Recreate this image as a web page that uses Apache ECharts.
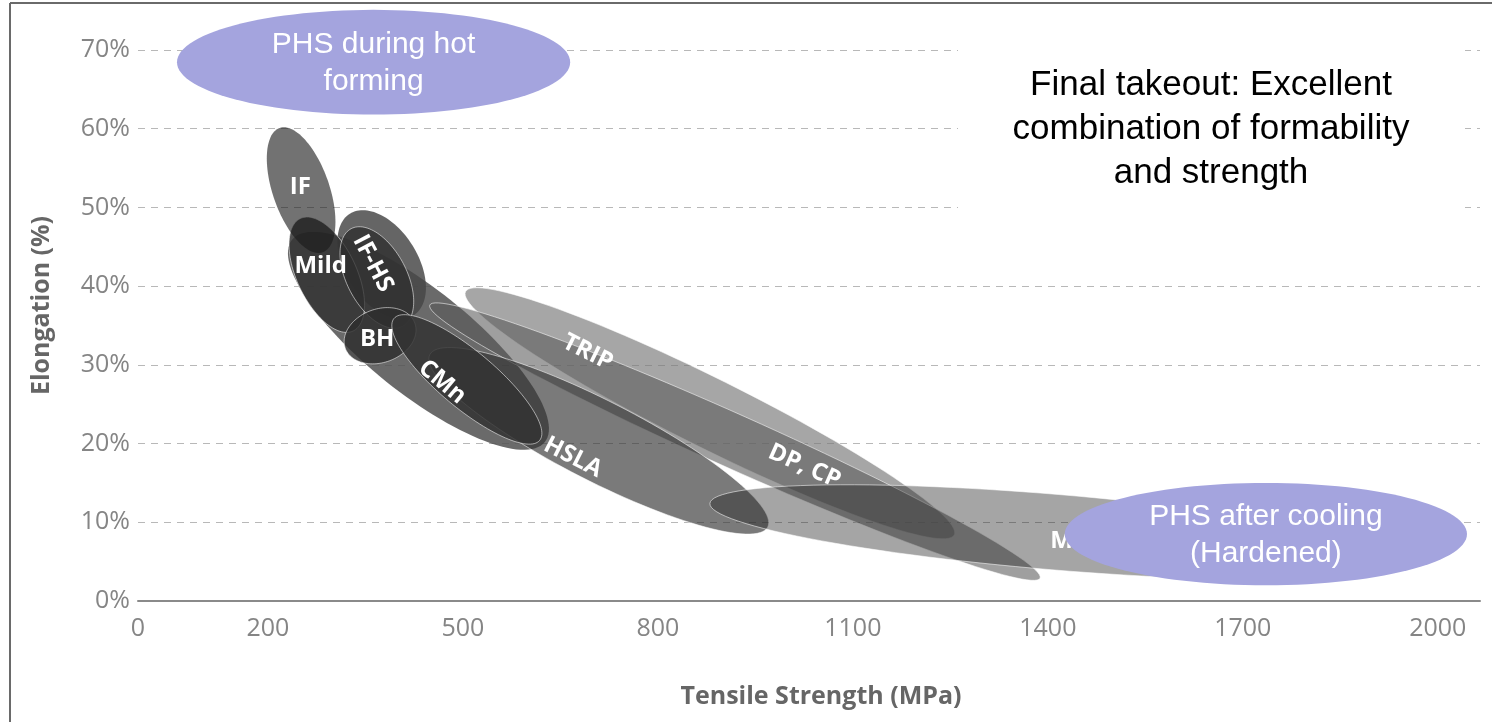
<!DOCTYPE html>
<html>
<head>
<meta charset="utf-8">
<script src="https://cdn.jsdelivr.net/npm/echarts@6/dist/echarts.min.js"></script>
<style>
  html, body { margin: 0; padding: 0; background: #ffffff; }
  #chart { width: 1492px; height: 722px; }
</style>
</head>
<body>
<div id="chart"></div>
<script>
// Steel families on the formability (elongation) vs strength map, listed in drawing order.
// Each envelope is an ellipse whose long axis runs from (tensileFrom, elongFrom)
// to (tensileTo, elongTo); halfWidth is its minor semi-axis in elongation points.
const gradeLabels = ['', 'TRIP', 'DP, CP', 'HSLA', 'MS', '', 'Mild', 'IF-HS', 'BH', 'CMn', 'IF'];
const tensileFrom = [237, 504, 449, 449, 880, 326, 250, 328, 319, 394, 218];
const elongFrom   = [45.9, 39.3, 37.6, 31.3, 12.4, 49.2, 48.6, 47.3, 32.1, 35.9, 60.1];
const tensileTo   = [626, 1256, 1388, 969, 1942, 424, 331, 407, 426, 618, 284];
const elongTo     = [20.2, 8.4, 2.9, 9.4, 5.1, 36.3, 34.3, 34.9, 35.3, 20.4, 44.3];
const halfWidth   = [6.6, 4.4, 3.4, 5.1, 4.8, 4.6, 3.8, 3.8, 3.4, 3.6, 3.6];

// Press-hardening steel call-outs (ranges in MPa and %)
const phsNotes      = ['PHS during hot\nforming', 'PHS after cooling\n(Hardened)'];
const phsTensileMin = [60, 1426];
const phsTensileMax = [665, 2045];
const phsElongMin   = [61.8, 2.0];
const phsElongMax   = [75.1, 15.0];

// Axis ticks
const xTicks = [0, 200, 500, 800, 1100, 1400, 1700, 2000];
const yMin = 0, yMax = 70, yStep = 10;

// Look of each envelope (kept apart from the values above)
const bandGrey    = [80, 120, 90, 50, 30, 70, 50, 45, 45, 50, 24];
const bandAlpha   = [0.85, 0.66, 0.58, 0.65, 0.40, 0.83, 0.85, 0.77, 0.82, 0.85, 0.61];
const bandOutline = [false, true, true, true, true, false, true, true, true, true, false];
// label placement: fraction along the long axis, offset across it (fraction of half width)
const labelAlongAxis = [0.5, 0.25, 0.61, 0.459, 0.52, 0.5, 0.42, 0.37, 0.45, 0.41, 0.48];
const labelAcross    = [0, 0, -0.22, 0.66, 0.22, 0, 0.07, -0.1, 0.07, 0.63, 0];
const labelRotated   = [false, true, true, true, false, false, false, true, false, true, false];

const bandRows = gradeLabels.map((g, i) => [tensileFrom[i], elongFrom[i], tensileTo[i], elongTo[i], halfWidth[i]]);
const phsRows = phsNotes.map((n, i) => [phsTensileMin[i], phsElongMin[i], phsTensileMax[i], phsElongMax[i]]);

function bandGeometry(api) {
  const p0 = api.coord([api.value(0), api.value(1)]);
  const p1 = api.coord([api.value(2), api.value(3)]);
  const hw = Math.abs(api.size([0, api.value(4)])[1]);
  const cx = (p0[0] + p1[0]) / 2, cy = (p0[1] + p1[1]) / 2;
  const dx = p1[0] - p0[0], dy = p1[1] - p0[1];
  return { cx, cy, a: Math.hypot(dx, dy) / 2, b: hw, ang: Math.atan2(dy, dx) };
}

function ellipsePoints(cx, cy, a, b, ang) {
  const pts = [];
  const c = Math.cos(ang), s = Math.sin(ang);
  for (let k = 0; k < 120; k++) {
    const t = (Math.PI * 2 * k) / 120;
    const ex = a * Math.cos(t), ey = b * Math.sin(t);
    pts.push([cx + ex * c - ey * s, cy + ex * s + ey * c]);
  }
  return pts;
}

const chart = echarts.init(document.getElementById('chart'), null, { renderer: 'canvas' });

chart.setOption({
  backgroundColor: '#ffffff',
  animation: false,
  grid: { left: 138, right: 12, top: 50, bottom: 121 },
  xAxis: {
    type: 'value',
    min: 0,
    max: 2065,
    name: 'Tensile Strength (MPa)',
    nameLocation: 'middle',
    nameGap: 83,
    nameTextStyle: { fontFamily: 'Open Sans', fontWeight: 'bold', fontSize: 25, color: '#666666', padding: [0, 0, 0, 24] },
    axisLine: { show: true, lineStyle: { color: '#8a8a8a', width: 2 } },
    axisTick: { show: false },
    splitLine: { show: false },
    axisLabel: {
      customValues: xTicks,
      formatter: function (v) { return String(v); },
      fontFamily: 'Open Sans',
      fontSize: 25,
      color: '#858585',
      margin: 15
    }
  },
  yAxis: {
    type: 'value',
    min: yMin,
    max: yMax,
    interval: yStep,
    name: 'Elongation (%)',
    nameLocation: 'middle',
    nameGap: 84,
    nameTextStyle: { fontFamily: 'Open Sans', fontWeight: 'bold', fontSize: 25, color: '#666666', padding: [0, 0, 0, 40] },
    axisLine: { show: false },
    axisTick: { show: false },
    axisLabel: {
      formatter: '{value}%',
      fontFamily: 'Open Sans',
      fontSize: 25,
      color: '#858585',
      margin: 8
    },
    splitLine: { show: true, lineStyle: { color: '#b8b8b8', type: [7, 6], width: 1 } }
  },
  graphic: [
    { type: 'line', z: 50, shape: { x1: 10, y1: 3, x2: 1492, y2: 3 }, style: { stroke: '#6a6a6a', lineWidth: 2 } },
    { type: 'line', z: 50, shape: { x1: 10, y1: 3, x2: 10, y2: 722 }, style: { stroke: '#6a6a6a', lineWidth: 2 } },
    { type: 'rect', z: 40, shape: { x: 958, y: 38, width: 507, height: 178 }, style: { fill: '#ffffff' } },
    {
      type: 'text', z: 41,
      style: {
        x: 1211, y: 63,
        text: 'Final takeout: Excellent\ncombination of formability\nand strength',
        fill: '#000000',
        font: '35px "Liberation Sans", Arial, sans-serif',
        align: 'center',
        verticalAlign: 'top',
        lineHeight: 44
      }
    }
  ],
  series: [
    {
      // envelopes
      type: 'custom',
      name: 'envelopes',
      coordinateSystem: 'cartesian2d',
      clip: false,
      z: 3,
      data: bandRows,
      renderItem: function (params, api) {
        const i = params.dataIndex;
        const g = bandGeometry(api);
        const c = bandGrey[i];
        return {
          type: 'polygon',
          shape: { points: ellipsePoints(g.cx, g.cy, g.a, g.b, g.ang) },
          style: {
            fill: 'rgba(' + c + ',' + c + ',' + c + ',' + bandAlpha[i] + ')',
            stroke: bandOutline[i] ? 'rgba(255,255,255,0.55)' : null,
            lineWidth: 1
          }
        };
      }
    },
    {
      // grade names
      type: 'custom',
      name: 'grade labels',
      coordinateSystem: 'cartesian2d',
      clip: false,
      z: 4,
      data: bandRows,
      renderItem: function (params, api) {
        const i = params.dataIndex;
        if (!gradeLabels[i]) return null;
        const g = bandGeometry(api);
        const along = (labelAlongAxis[i] - 0.5) * 2 * g.a;
        const across = labelAcross[i] * g.b;
        const c = Math.cos(g.ang), s = Math.sin(g.ang);
        const x = g.cx + along * c - across * s;
        const y = g.cy + along * s + across * c;
        return {
          type: 'text',
          x: x, y: y,
          rotation: labelRotated[i] ? -g.ang : 0,
          style: {
            text: gradeLabels[i],
            fill: '#ffffff',
            font: 'bold 24px "Open Sans", sans-serif',
            align: 'center',
            verticalAlign: 'middle'
          }
        };
      }
    },
    {
      // PHS call-outs
      type: 'custom',
      name: 'PHS',
      coordinateSystem: 'cartesian2d',
      clip: false,
      z: 6,
      data: phsRows,
      renderItem: function (params, api) {
        const i = params.dataIndex;
        const p0 = api.coord([api.value(0), api.value(1)]);
        const p1 = api.coord([api.value(2), api.value(3)]);
        const cx = (p0[0] + p1[0]) / 2, cy = (p0[1] + p1[1]) / 2;
        const rx = Math.abs(p1[0] - p0[0]) / 2, ry = Math.abs(p1[1] - p0[1]) / 2;
        return {
          type: 'group',
          children: [
            {
              type: 'polygon',
              shape: { points: ellipsePoints(cx, cy, rx, ry, 0) },
              style: { fill: '#a4a4de' }
            },
            {
              type: 'text',
              x: cx, y: cy + 1,
              style: {
                text: phsNotes[i],
                fill: '#ffffff',
                font: '30px "Liberation Sans", Arial, sans-serif',
                align: 'center',
                verticalAlign: 'middle',
                lineHeight: 37
              }
            }
          ]
        };
      }
    }
  ]
});
</script>
</body>
</html>
